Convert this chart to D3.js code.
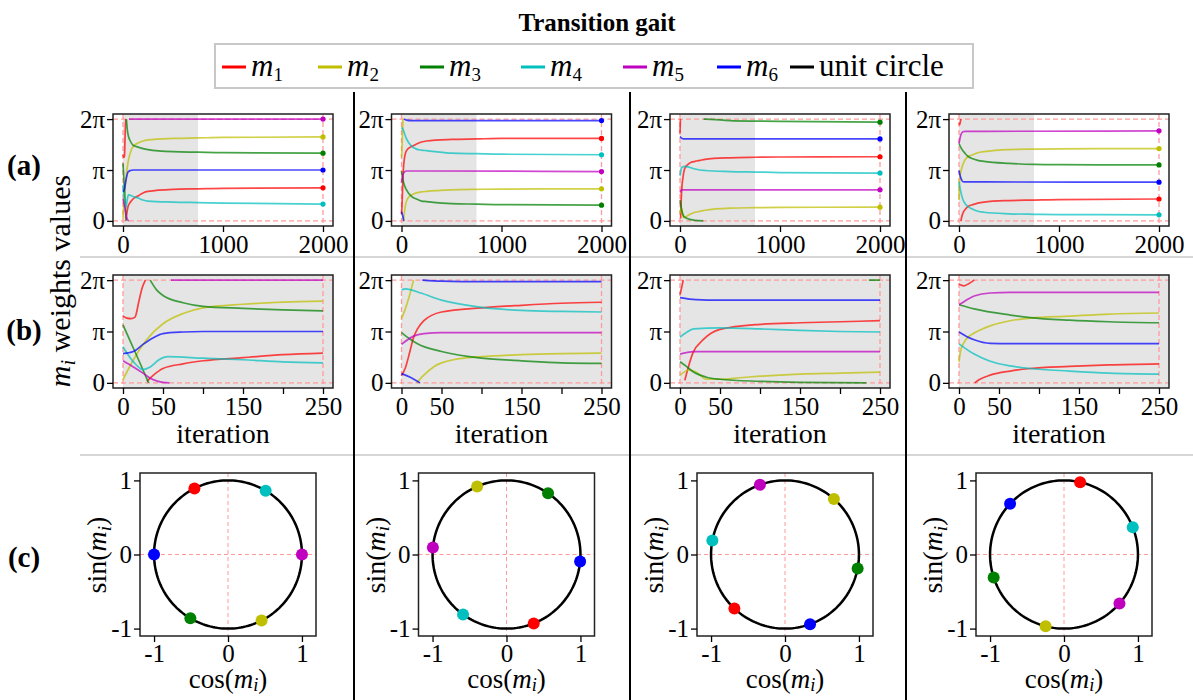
<!DOCTYPE html>
<html><head><meta charset="utf-8">
<script src="https://cdn.jsdelivr.net/npm/d3@7"></script>
<style>
body{margin:0;background:#fff}
text{font-family:"Liberation Serif","DejaVu Serif",serif;fill:#000}
</style>
</head><body>
<svg id="chart" width="1193" height="700"></svg>
<script>
// ---------------- data ----------------
const seriesNames = ["m1","m2","m3","m4","m5","m6"];
const seriesColors = ["#ff0000","#bfbf00","#008000","#00bfbf","#bf00bf","#0000ff"];
const legendLabels = ["1","2","3","4","5","6"];
const yTicks = [0,1,2];                 // in units of pi
const yTickLabels = ["0","π","2π"];
const xTicksA = [0,1000,2000];
const xTicksB = [0,50,100,150,200,250];
const xTickLabelsB = ["0","50","","150","","250"];
const circleTicks = [-1,0,1];
const shadeEnd = 750;
const rowLabels = ["(a)","(b)","(c)"];

// values in units of pi; [iteration, null] marks a wrap-around break
const gait1_m1 = [[0,1.30],[5,1.26],[10,1.25],[15,1.28],[20,1.6],[24,1.85],[28,2.0],[29,null],[30,0.03],[38,0.15],[50,0.28],[75,0.37],[100,0.43],[150,0.49],[200,0.55],[250,0.58],[500,0.62],[750,0.63],[1000,0.64],[2000,0.65]];
const gait1_m2 = [[0,0.06],[13,0.45],[30,0.85],[50,1.15],[75,1.35],[100,1.46],[150,1.53],[200,1.57],[250,1.59],[500,1.62],[750,1.63],[1000,1.64],[2000,1.65]];
const gait1_m3 = [[0,1.13],[10,0.78],[20,0.43],[32,0.0],[33,null],[34,2.0],[42,1.81],[50,1.70],[75,1.56],[100,1.49],[150,1.45],[200,1.42],[250,1.40],[500,1.36],[750,1.35],[1000,1.34],[2000,1.33]];
const gait1_m4 = [[0,0.70],[13,0.41],[25,0.26],[34,0.31],[45,0.45],[56,0.51],[100,0.48],[150,0.45],[200,0.41],[250,0.39],[500,0.37],[750,0.36],[1000,0.35],[2000,0.33]];
const gait1_m5 = [[0,0.43],[13,0.31],[25,0.19],[34,0.09],[44,0.03],[58,0.0],[59,null],[60,2.0],[250,2.0],[2000,2.0]];
const gait1_m6 = [[0,0.57],[13,0.61],[25,0.75],[38,0.88],[50,0.96],[75,0.99],[100,1.0],[250,1.0],[2000,1.0]];

const gait2_m1 = [[0,0.14],[5,0.3],[10,0.58],[15,0.88],[20,1.05],[28,1.21],[50,1.38],[100,1.46],[150,1.51],[200,1.55],[250,1.57],[500,1.60],[750,1.61],[1000,1.62],[2000,1.62]];
const gait2_m2 = [[0,1.25],[5,1.45],[10,1.7],[15,2.0],[17,null],[19,0.0],[28,0.15],[40,0.31],[65,0.45],[100,0.51],[150,0.55],[200,0.57],[250,0.58],[500,0.61],[750,0.62],[1000,0.625],[2000,0.63]];
const gait2_m3 = [[0,0.98],[10,0.86],[20,0.76],[50,0.61],[100,0.48],[150,0.43],[200,0.39],[250,0.38],[500,0.34],[750,0.33],[1000,0.32],[2000,0.31]];
const gait2_m4 = [[0,1.81],[5,1.83],[24,1.75],[50,1.61],[100,1.47],[150,1.41],[200,1.39],[250,1.38],[500,1.33],[750,1.32],[1000,1.31],[2000,1.30]];
const gait2_m5 = [[0,0.75],[15,0.91],[28,0.96],[50,0.98],[100,0.98],[250,0.98],[2000,0.97]];
const gait2_m6 = [[0,0.18],[11,0.11],[23,0.0],[24,null],[26,2.0],[50,1.98],[100,1.97],[250,1.97],[2000,1.97]];

const gait3_m1 = [[0,1.72],[2,1.85],[4,2.0],[5,null],[6,0.05],[16,0.58],[29,0.84],[50,1.04],[100,1.14],[150,1.17],[200,1.19],[250,1.21],[500,1.24],[750,1.25],[1000,1.255],[2000,1.26]];
const gait3_m2 = [[0,0.15],[12,0.25],[20,0.21],[33,0.07],[50,0.07],[75,0.10],[100,0.13],[150,0.17],[200,0.19],[250,0.21],[500,0.25],[750,0.26],[1000,0.265],[2000,0.27]];
const gait3_m3 = [[0,0.41],[8,0.32],[17,0.21],[33,0.11],[50,0.07],[100,0.03],[150,0.01],[233,0.0],[234,null],[236,2.0],[250,2.0],[500,1.97],[750,1.96],[1000,1.955],[2000,1.94]];
const gait3_m4 = [[0,0.89],[8,0.98],[17,1.05],[50,1.07],[100,1.05],[150,1.02],[200,1.0],[250,0.99],[500,0.97],[750,0.96],[1000,0.95],[2000,0.94]];
const gait3_m5 = [[0,0.56],[8,0.59],[17,0.61],[50,0.61],[250,0.61],[2000,0.61]];
const gait3_m6 = [[0,1.66],[20,1.62],[50,1.61],[250,1.61],[2000,1.61]];

const gait4_m1 = [[0,1.92],[6,1.89],[12,1.93],[19,2.0],[19.3,null],[19.6,0.0],[25,0.06],[39,0.15],[64,0.23],[89,0.28],[138,0.32],[188,0.35],[250,0.37],[500,0.40],[750,0.41],[1000,0.42],[2000,0.43]];
const gait4_m2 = [[0,0.41],[2,0.62],[6,0.78],[12,0.9],[19,0.97],[39,1.11],[64,1.21],[89,1.26],[138,1.30],[188,1.34],[250,1.36],[500,1.40],[750,1.41],[1000,1.415],[2000,1.42]];
const gait4_m3 = [[0,1.52],[19,1.44],[64,1.32],[89,1.27],[138,1.22],[188,1.19],[250,1.17],[500,1.13],[750,1.11],[1000,1.105],[2000,1.10]];
const gait4_m4 = [[0,0.76],[19,0.56],[39,0.42],[64,0.33],[89,0.28],[138,0.23],[188,0.19],[250,0.17],[500,0.14],[750,0.13],[1000,0.125],[2000,0.12]];
const gait4_m5 = [[0,1.52],[8,1.6],[19,1.69],[39,1.75],[64,1.76],[250,1.76],[2000,1.77]];
const gait4_m6 = [[0,0.99],[10,0.9],[19,0.84],[39,0.77],[64,0.765],[250,0.765],[2000,0.76]];

const gaits = [
  [gait1_m1,gait1_m2,gait1_m3,gait1_m4,gait1_m5,gait1_m6],
  [gait2_m1,gait2_m2,gait2_m3,gait2_m4,gait2_m5,gait2_m6],
  [gait3_m1,gait3_m2,gait3_m3,gait3_m4,gait3_m5,gait3_m6],
  [gait4_m1,gait4_m2,gait4_m3,gait4_m4,gait4_m5,gait4_m6]
];

// ---------------- layout ----------------
const svg = d3.select("#chart");
const colDX = [0, 278.5, 557, 836];
const TICK_FS = 25;
const dashColor = "#ff9a9a";
let clipId = 0;

svg.append("text").attr("x",597).attr("y",31).attr("text-anchor","middle")
  .attr("font-size",25).attr("font-weight","bold").text("Transition gait");

// legend
const lg = svg.append("g");
lg.append("rect").attr("x",215).attr("y",44).attr("width",758).attr("height",44)
  .attr("fill","#fff").attr("stroke","#c8c8c8").attr("stroke-width",2);
const legendX = [222,318,420,521,623,717,790];
seriesNames.concat(["circle"]).forEach((s,i)=>{
  const x0 = legendX[i];
  lg.append("line").attr("x1",x0).attr("x2",x0+24).attr("y1",67).attr("y2",67)
    .attr("stroke", i<6 ? seriesColors[i] : "#000").attr("stroke-width",3);
  const t = lg.append("text").attr("x",x0+29).attr("y",76).attr("font-size",31);
  if(i<6){
    t.append("tspan").attr("font-style","italic").text("m");
    t.append("tspan").attr("font-size",19).attr("dy",5).text(legendLabels[i]);
  } else {
    t.text("unit circle");
  }
});

// separators
[257,455].forEach(y=>svg.append("line").attr("x1",80).attr("x2",1193).attr("y1",y).attr("y2",y)
  .attr("stroke","#c8c8c8").attr("stroke-width",1.5));
[354,630,906].forEach(x=>svg.append("line").attr("x1",x).attr("x2",x).attr("y1",92).attr("y2",700)
  .attr("stroke","#000").attr("stroke-width",2));

// row labels
[[165,0],[330,1],[557,2]].forEach(([y,i])=>svg.append("text").attr("x",24).attr("y",y+10)
  .attr("text-anchor","middle").attr("font-size",29).attr("font-weight","bold").text(rowLabels[i]));

// shared y label
function mathLabel(sel, pre, post, sub){
  if(pre) sel.append("tspan").text(pre);
  sel.append("tspan").attr("font-style","italic").text("m");
  sel.append("tspan").attr("font-style","italic").attr("font-size","0.68em").attr("dy",sub+"em").text("i");
  sel.append("tspan").attr("dy",(-sub*0.68)+"em").text(post);
}
const yl = svg.append("text").attr("transform","translate(70,281) rotate(-90)")
  .attr("text-anchor","middle").attr("font-size",30);
mathLabel(yl, "", " weights values", 0.25);

function styleAxis(g){
  g.select(".domain").remove();
  g.selectAll(".tick line").attr("stroke","#000").attr("stroke-width",1.3);
  g.selectAll(".tick text").attr("font-size",TICK_FS).attr("font-family",'"Liberation Serif",serif').attr("fill","#000");
}

function timePanel(c, data, xDom, yRange, xTicks, xLabels, maxIter, showDots, showXLabel){
  const dx = colDX[c];
  const x = d3.scaleLinear(xDom,[113+dx,333+dx]);
  const y = d3.scaleLinear([-0.1,2.1],yRange);
  const g = svg.append("g");
  const id = "clip"+(clipId++);
  g.append("clipPath").attr("id",id).append("rect")
    .attr("x",x.range()[0]).attr("y",yRange[1]).attr("width",220).attr("height",yRange[0]-yRange[1]);
  const inner = g.append("g").attr("clip-path",`url(#${id})`);
  inner.append("rect").attr("x",x(0)).attr("y",yRange[1]).attr("width",x(shadeEnd)-x(0))
    .attr("height",yRange[0]-yRange[1]).attr("fill","#e5e5e5");
  [0,2].forEach(v=>inner.append("line").attr("x1",x.range()[0]).attr("x2",x.range()[1])
    .attr("y1",y(v)).attr("y2",y(v)).attr("stroke",dashColor).attr("stroke-width",1.3).attr("stroke-dasharray","5,3"));
  [0,maxIter].forEach(v=>inner.append("line").attr("x1",x(v)).attr("x2",x(v))
    .attr("y1",yRange[1]).attr("y2",yRange[0]).attr("stroke",dashColor).attr("stroke-width",1.3).attr("stroke-dasharray","5,3"));
  const line = d3.line().defined(d=>d[1]!==null).x(d=>x(d[0])).y(d=>y(d[1])).curve(d3.curveMonotoneX);
  data.forEach((s,i)=>{
    const pts = s.filter(d=>d[0]<=maxIter);
    inner.append("path").attr("d",line(pts)).attr("fill","none")
      .attr("stroke",seriesColors[i]).attr("stroke-opacity",0.72).attr("stroke-width",1.7);
  });
  if(showDots){
    data.forEach((s,i)=>{
      const last = s[s.length-1];
      inner.append("circle").attr("cx",x(last[0])).attr("cy",y(last[1])).attr("r",2.6).attr("fill",seriesColors[i]);
    });
  }
  g.append("rect").attr("x",x.range()[0]).attr("y",yRange[1]).attr("width",220).attr("height",yRange[0]-yRange[1])
    .attr("fill","none").attr("stroke","#222").attr("stroke-width",1.5);
  const ax = g.append("g").attr("transform",`translate(${x.range()[0]},0)`)
    .call(d3.axisLeft(y).tickValues(yTicks).tickFormat((d,i)=>yTickLabels[i]).tickSize(6).tickPadding(2));
  styleAxis(ax);
  const bx = g.append("g").attr("transform",`translate(0,${yRange[0]})`)
    .call(d3.axisBottom(x).tickValues(xTicks).tickFormat((d,i)=>xLabels[i]).tickSize(6).tickPadding(3));
  styleAxis(bx);
  if(showXLabel){
    g.append("text").attr("x",223+dx).attr("y",yRange[0]+55).attr("text-anchor","middle")
      .attr("font-size",28).text("iteration");
  }
}

function circlePanel(c, data){
  const dx = colDX[c];
  const x = d3.scaleLinear([-1.19,1.19],[140+dx,316+dx]);
  const y = d3.scaleLinear([-1.1,1.1],[636,473]);
  const g = svg.append("g");
  g.append("line").attr("x1",x(0)).attr("x2",x(0)).attr("y1",473).attr("y2",636)
    .attr("stroke",dashColor).attr("stroke-width",1).attr("stroke-dasharray","4,3");
  g.append("line").attr("x1",140+dx).attr("x2",316+dx).attr("y1",y(0)).attr("y2",y(0))
    .attr("stroke",dashColor).attr("stroke-width",1).attr("stroke-dasharray","4,3");
  const angles = d3.range(0, 361, 2).map(a=>a*Math.PI/180);
  g.append("path").attr("d",d3.line().x(a=>x(Math.cos(a))).y(a=>y(Math.sin(a)))(angles))
    .attr("fill","none").attr("stroke","#000").attr("stroke-width",2.5);
  data.forEach((s,i)=>{
    const v = s[s.length-1][1]*Math.PI;
    g.append("circle").attr("cx",x(Math.cos(v))).attr("cy",y(Math.sin(v))).attr("r",6).attr("fill",seriesColors[i]);
  });
  g.append("rect").attr("x",140+dx).attr("y",473).attr("width",176).attr("height",163)
    .attr("fill","none").attr("stroke","#222").attr("stroke-width",1.5);
  const ax = g.append("g").attr("transform",`translate(${140+dx},0)`)
    .call(d3.axisLeft(y).tickValues(circleTicks).tickFormat(d=>d).tickSize(6).tickPadding(2));
  styleAxis(ax);
  const bx = g.append("g").attr("transform",`translate(0,636)`)
    .call(d3.axisBottom(x).tickValues(circleTicks).tickFormat(d=>d).tickSize(6).tickPadding(2));
  styleAxis(bx);
  const xl = g.append("text").attr("x",228+dx).attr("y",688).attr("text-anchor","middle").attr("font-size",27);
  mathLabel(xl, "cos(", ")", 0.15);
  const yl2 = g.append("text").attr("transform",`translate(${106+dx},555) rotate(-90)`)
    .attr("text-anchor","middle").attr("font-size",28);
  mathLabel(yl2, "sin(", ")", 0.25);
}

gaits.forEach((data,c)=>{
  timePanel(c, data, [-100,2100], [226,114], xTicksA, xTicksA.map(String), 2000, true, false);
  timePanel(c, data, [-12.5,262.5], [388,275], xTicksB, xTickLabelsB, 250, false, true);
  circlePanel(c, data);
});
</script>
</body></html>
